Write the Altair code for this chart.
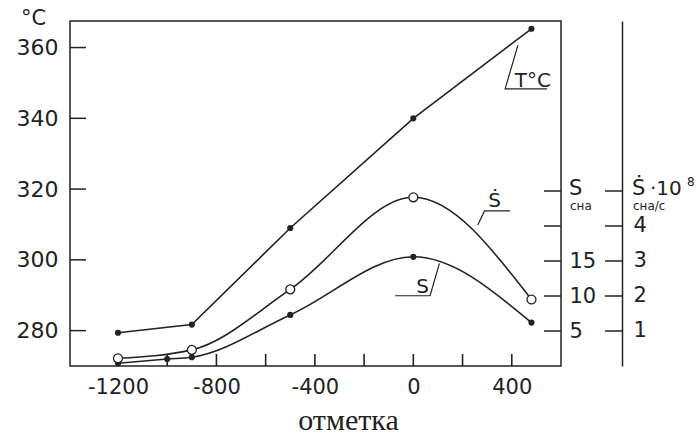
import altair as alt
import pandas as pd

INK = "#222222"
W, H = 491, 345

# ---- data ----
t_x = [-1200, -900, -500, 0, 480]
t_val = [279.4, 281.7, 309.0, 340.0, 365.3]

s_x = [-1200, -1000, -900, -500, 0, 480]
s_val = [0.4, 1.0, 1.25, 7.3, 15.6, 6.2]

sd_x = [-1200, -900, -500, 0, 480]
sd_val = [0.22, 0.46, 2.19, 4.82, 1.9]

t_ticks = [280, 300, 320, 340, 360]
x_ticks = [-1200, -1000, -800, -600, -400, -200, 0, 200, 400]
x_labels = [-1200, -800, -400, 0, 400]
s_ticks = [5, 10, 15, 20, 25]
s_labels = [5, 10, 15]
sd_ticks = [1, 2, 3, 4, 5]
sd_labels = [1, 2, 3, 4]

# curve label leaders (data units)
t_lead_x = [425, 373, 543]
t_lead_y = [360.7, 348.3, 348.3]
sd_lead_x = [262, 289, 393]
sd_lead_y = [4.03, 4.43, 4.43]
s_lead_x = [106, 68, -74]
s_lead_y = [14.67, 10.04, 10.04]

# ---- scales & axes ----
xs = alt.Scale(domain=[-1395, 600], nice=False, zero=False)
ts = alt.Scale(domain=[270, 367.5], nice=False, zero=False)
ss = alt.Scale(domain=[0, 49.29], nice=False, zero=False)
sds = alt.Scale(domain=[0, 9.857], nice=False, zero=False)

xaxis = alt.Axis(values=x_labels, ticks=False, tickSize=0, domain=False, grid=False,
                 labelFont="DejaVu Sans", labelFontSize=21, labelColor=INK, labelPadding=10,
                 labelExpr="'' + datum.value", labelFlush=False,
                 title="отметка", titleFont="Liberation Serif", titleFontSize=30,
                 titleFontWeight="normal", titleColor=INK, titleX=278, titleY=63,
                 titleAlign="center", titleBaseline="alphabetic")
taxis = alt.Axis(orient="left", values=t_ticks, ticks=False, tickSize=0, domain=False, grid=False,
                 labelFont="DejaVu Sans", labelFontSize=22, labelColor=INK, labelPadding=12,
                 title="°C", titleAngle=0, titleFont="DejaVu Sans", titleFontSize=21,
                 titleFontWeight="normal", titleColor=INK, titleX=-37, titleY=-3,
                 titleAlign="center", titleBaseline="middle")
saxis = alt.Axis(orient="right", values=s_labels, ticks=False, tickSize=0, domain=False, grid=False,
                 labelFont="DejaVu Sans", labelFontSize=21, labelColor=INK, labelPadding=8,
                 title=None)
sdaxis = alt.Axis(orient="right", offset=61, values=sd_labels, ticks=False, tickSize=0,
                  domain=True, domainColor=INK, domainWidth=1.5, grid=False,
                  labelFont="DejaVu Sans", labelFontSize=21, labelColor=INK, labelPadding=11,
                  title=None)

X = lambda f="x": alt.X(f"{f}:Q", scale=xs, axis=xaxis)

# ---- temperature group ----
tdf = pd.DataFrame({"x": t_x, "t": t_val})
ttick = pd.DataFrame({"t": t_ticks})
xtick = pd.DataFrame({"x": x_ticks})
tlead = pd.DataFrame({"x": t_lead_x, "t": t_lead_y, "i": range(len(t_lead_x))})
tlab = pd.DataFrame({"x": [486], "t": [348.9], "txt": ["T°C"]})

TY = alt.Y("t:Q", scale=ts, axis=taxis)
t_line = alt.Chart(tdf).mark_line(color=INK, strokeWidth=1.6).encode(x=X(), y=TY)
t_pts = alt.Chart(tdf).mark_circle(color=INK, size=38, opacity=1).encode(x=X(), y=TY)
t_tk = alt.Chart(ttick).mark_rule(color=INK, strokeWidth=1.5).encode(
    y=TY, x=alt.value(0), x2=alt.value(16))
x_tk = alt.Chart(xtick).mark_rule(color=INK, strokeWidth=1.6).encode(
    x=X(), y=alt.value(H - 12), y2=alt.value(H))
t_ld = alt.Chart(tlead).mark_line(color=INK, strokeWidth=1.2).encode(
    x=X(), y=TY, order="i:Q")
t_tx = alt.Chart(tlab).mark_text(font="DejaVu Sans", fontSize=20, color=INK,
                                 align="center", baseline="alphabetic").encode(
    x=X(), y=TY, text="txt:N")
g_t = alt.layer(t_line, t_tk, x_tk, t_ld, t_tx, t_pts)

# ---- S group ----
sdf = pd.DataFrame({"x": s_x, "s": s_val})
stick = pd.DataFrame({"s": s_ticks})
slead = pd.DataFrame({"x": s_lead_x, "s": s_lead_y, "i": range(len(s_lead_x))})
slab = pd.DataFrame({"x": [38], "s": [10.4], "txt": ["S"]})
stop = pd.DataFrame({"s": [25]})

SY = alt.Y("s:Q", scale=ss, axis=saxis)
s_line = alt.Chart(sdf).mark_line(color=INK, strokeWidth=1.6, interpolate="monotone").encode(x=X(), y=SY)
s_pts = alt.Chart(sdf).mark_circle(color=INK, size=38, opacity=1).encode(x=X(), y=SY)
s_tk = alt.Chart(stick).mark_rule(color=INK, strokeWidth=1.5).encode(
    y=SY, x=alt.value(W - 17), x2=alt.value(W))
s_ld = alt.Chart(slead).mark_line(color=INK, strokeWidth=1.2).encode(x=X(), y=SY, order="i:Q")
s_tx = alt.Chart(slab).mark_text(font="DejaVu Sans", fontSize=20, color=INK,
                                 align="center", baseline="alphabetic").encode(
    x=X(), y=SY, text="txt:N")
s_top1 = alt.Chart(stop).mark_text(font="DejaVu Sans", fontSize=21, color=INK, align="left",
                                   baseline="middle", dy=-2, text="S").encode(
    y=SY, x=alt.value(W + 8))
s_top2 = alt.Chart(stop).mark_text(font="DejaVu Sans", fontSize=12, color=INK, align="left",
                                   baseline="middle", dy=15, text="сна").encode(
    y=SY, x=alt.value(W + 9))
g_s = alt.layer(s_line, s_tk, s_ld, s_tx, s_top1, s_top2, s_pts)

# ---- S-dot group ----
sddf = pd.DataFrame({"x": sd_x, "sd": sd_val})
sdtick = pd.DataFrame({"sd": sd_ticks})
sdlead = pd.DataFrame({"x": sd_lead_x, "sd": sd_lead_y, "i": range(len(sd_lead_x))})
sdlab = pd.DataFrame({"x": [330], "sd": [4.55], "txt": ["Ṡ"]})
sdtop = pd.DataFrame({"sd": [5]})

DY = alt.Y("sd:Q", scale=sds, axis=sdaxis)
d_line = alt.Chart(sddf).mark_line(color=INK, strokeWidth=1.6, interpolate="monotone").encode(x=X(), y=DY)
d_pts = alt.Chart(sddf).mark_point(shape="circle", filled=True, fill="white", stroke=INK,
                                   strokeWidth=1.3, size=80, opacity=1).encode(x=X(), y=DY)
d_tk = alt.Chart(sdtick).mark_rule(color=INK, strokeWidth=1.5).encode(
    y=DY, x=alt.value(W + 44), x2=alt.value(W + 61))
d_ld = alt.Chart(sdlead).mark_line(color=INK, strokeWidth=1.2).encode(x=X(), y=DY, order="i:Q")
d_tx = alt.Chart(sdlab).mark_text(font="DejaVu Sans", fontSize=20, color=INK,
                                  align="center", baseline="alphabetic").encode(
    x=X(), y=DY, text="txt:N")
d_top1 = alt.Chart(sdtop).mark_text(font="DejaVu Sans", fontSize=21, color=INK, align="left",
                                    baseline="middle", dy=-2, text="Ṡ").encode(
    y=DY, x=alt.value(W + 71))
d_top2 = alt.Chart(sdtop).mark_text(font="DejaVu Sans", fontSize=20, color=INK, align="left",
                                    baseline="middle", dy=-2, text="·10").encode(
    y=DY, x=alt.value(W + 89))
d_top3 = alt.Chart(sdtop).mark_text(font="DejaVu Sans", fontSize=12, color=INK, align="left",
                                    baseline="middle", dy=-9, text="8").encode(
    y=DY, x=alt.value(W + 126))
d_top4 = alt.Chart(sdtop).mark_text(font="DejaVu Sans", fontSize=12, color=INK, align="left",
                                    baseline="middle", dy=15, text="сна/с").encode(
    y=DY, x=alt.value(W + 72))
g_d = alt.layer(d_line, d_tk, d_ld, d_tx, d_top1, d_top2, d_top3, d_top4, d_pts)

chart = (
    alt.layer(g_t, g_s, g_d)
    .resolve_scale(y="independent")
    .properties(width=W, height=H,
                autosize=alt.AutoSizeParams(type="none"),
                padding={"left": 70, "top": 21, "right": 696 - 70 - W, "bottom": 434 - 21 - H},
                background="white")
    .configure_view(stroke=INK, strokeWidth=1.5)
)

chart.save("out.html", embed_options={"renderer": "svg", "actions": False})
